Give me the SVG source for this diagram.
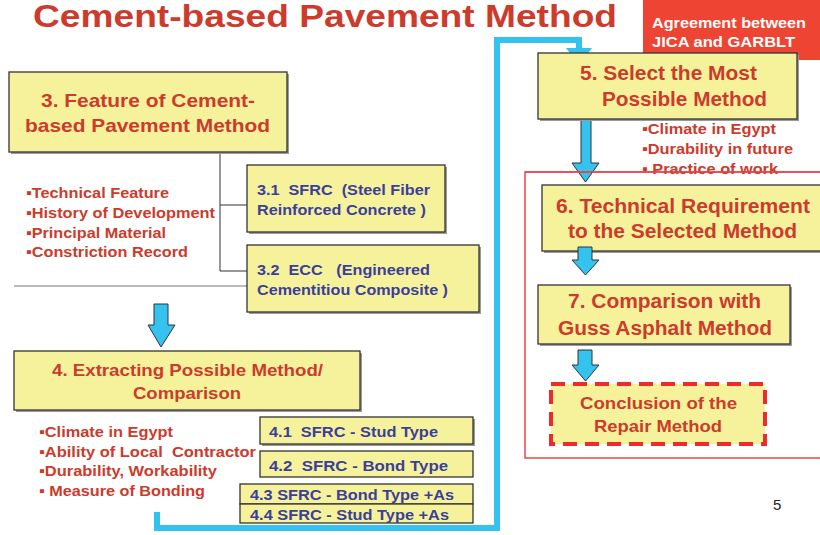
<svg xmlns="http://www.w3.org/2000/svg" width="820" height="535" viewBox="0 0 820 535">
<style>
.box{fill:#f6f29c;stroke:#333;stroke-width:1.3}
.sh{fill:#9a9a9a}
text{font-family:"Liberation Sans",Arial,sans-serif;font-weight:bold}
.rt{fill:#cc3b2c}
.bt{fill:#3b3f9a}
.bl{fill:#cc3b2c;font-size:15.5px}
.arr{fill:#33c3ee;stroke:#333;stroke-width:1}
.ln{stroke:#333;stroke-width:1;fill:none}
</style>
<rect width="820" height="535" fill="#fff"/>
<text x="33" y="27" class="rt" font-size="32" fill="#cc3f2c" textLength="584" lengthAdjust="spacingAndGlyphs">Cement-based Pavement Method</text>
<g id="agreement">
<rect x="643" y="0" width="177" height="60" fill="#ee4433"/>
<text x="652" y="28" font-size="15" fill="#fff" textLength="154" lengthAdjust="spacingAndGlyphs">Agreement between</text>
<text x="652" y="47" font-size="15" fill="#fff" textLength="143" lengthAdjust="spacingAndGlyphs">JICA and GARBLT</text>
</g>
<g id="connectors">
<path class="ln" d="M220,152 V271 M220,205 H247 M220,271 H247"/>
<line x1="14" y1="286" x2="247" y2="286" stroke="#777" stroke-width="1"/>
<path d="M157,512 V528 H497 V40 H579 V50" fill="none" stroke="#33c3ee" stroke-width="6"/>
<polygon points="566,48 592,48 579,65" fill="#33c3ee"/>
<path class="arr" d="M154,304 H168 V325 H175 L161,347 L148,325 H154 Z"/>
<path class="arr" d="M581,119 H591 V163 H599 L585.5,182 L572,163 H581 Z"/>
<path class="arr" d="M578,350 H592 V365 H599 L585.5,381 L572,365 H578 Z"/>
</g>
<rect x="525" y="172" width="300" height="286" fill="none" stroke="#e8454a" stroke-width="1.5"/>
<g id="n3">
<rect x="11" y="74" width="278" height="80" class="sh"/>
<rect x="9" y="72" width="278" height="80" class="box"/>
<text x="41" y="107" class="rt" font-size="19" textLength="214" lengthAdjust="spacingAndGlyphs">3. Feature of Cement-</text>
<text x="25" y="132" class="rt" font-size="19" textLength="245" lengthAdjust="spacingAndGlyphs">based Pavement Method</text>
</g>
<g id="n3bullets">
<text x="26" y="198" class="bl" textLength="143" lengthAdjust="spacingAndGlyphs">▪Technical Feature</text>
<text x="26" y="218" class="bl" textLength="189" lengthAdjust="spacingAndGlyphs">▪History of Development</text>
<text x="26" y="238" class="bl" textLength="140" lengthAdjust="spacingAndGlyphs">▪Principal Material</text>
<text x="26" y="257" class="bl" textLength="162" lengthAdjust="spacingAndGlyphs">▪Constriction Record</text>
</g>
<g id="n31">
<rect x="249" y="167" width="198" height="67" class="sh"/>
<rect x="247" y="165" width="198" height="67" class="box"/>
<text x="257" y="195" class="bt" font-size="15.5" xml:space="preserve" textLength="173" lengthAdjust="spacingAndGlyphs">3.1  SFRC  (Steel Fiber</text>
<text x="257" y="215" class="bt" font-size="15.5" textLength="169" lengthAdjust="spacingAndGlyphs">Reinforced Concrete )</text>
</g>
<g id="n32">
<rect x="249" y="247" width="232" height="67" class="sh"/>
<rect x="247" y="245" width="232" height="67" class="box"/>
<text x="257" y="275" class="bt" font-size="15.5" xml:space="preserve" textLength="173" lengthAdjust="spacingAndGlyphs">3.2  ECC   (Engineered</text>
<text x="257" y="295" class="bt" font-size="15.5" textLength="191" lengthAdjust="spacingAndGlyphs">Cementitiou Composite )</text>
</g>
<g id="n4">
<rect x="16" y="353" width="346" height="59" class="sh"/>
<rect x="14" y="351" width="346" height="59" class="box"/>
<text x="52" y="376" class="rt" font-size="17" textLength="271" lengthAdjust="spacingAndGlyphs">4. Extracting Possible Method/</text>
<text x="133" y="399" class="rt" font-size="17" textLength="108" lengthAdjust="spacingAndGlyphs">Comparison</text>
</g>
<g id="n4bullets">
<text x="39" y="437" class="bl" textLength="134" lengthAdjust="spacingAndGlyphs">▪Climate in Egypt</text>
<text x="39" y="457" class="bl" xml:space="preserve" textLength="217" lengthAdjust="spacingAndGlyphs">▪Ability of Local  Contractor</text>
<text x="39" y="476" class="bl" textLength="178" lengthAdjust="spacingAndGlyphs">▪Durability, Workability</text>
<text x="39" y="496" class="bl" xml:space="preserve" textLength="166" lengthAdjust="spacingAndGlyphs">▪ Measure of Bonding</text>
</g>
<g id="n41">
<rect x="262" y="419" width="213" height="27" class="sh"/>
<rect x="260" y="417" width="213" height="27" class="box"/>
<text x="269" y="437" class="bt" font-size="15" xml:space="preserve" textLength="169" lengthAdjust="spacingAndGlyphs">4.1  SFRC - Stud Type</text>
</g>
<g id="n42">
<rect x="260" y="451" width="213" height="26" class="box"/>
<text x="269" y="471" class="bt" font-size="15" xml:space="preserve" textLength="179" lengthAdjust="spacingAndGlyphs">4.2  SFRC - Bond Type</text>
</g>
<g id="n43">
<rect x="240" y="484" width="233" height="20" class="box"/>
<text x="250" y="500" class="bt" font-size="15" textLength="204" lengthAdjust="spacingAndGlyphs">4.3 SFRC - Bond Type +As</text>
</g>
<g id="n44">
<rect x="240" y="504" width="233" height="19" class="box"/>
<text x="250" y="520" class="bt" font-size="15" textLength="199" lengthAdjust="spacingAndGlyphs">4.4 SFRC - Stud Type +As</text>
</g>
<g id="n5">
<rect x="540" y="55" width="259" height="66" class="sh"/>
<rect x="538" y="53" width="259" height="66" class="box"/>
<text x="580" y="80" class="rt" font-size="19.5" textLength="177" lengthAdjust="spacingAndGlyphs">5. Select the Most</text>
<text x="602" y="106" class="rt" font-size="19.5" textLength="165" lengthAdjust="spacingAndGlyphs">Possible Method</text>
</g>
<g id="n5bullets">
<text x="642" y="134" class="bl" textLength="134" lengthAdjust="spacingAndGlyphs">▪Climate in Egypt</text>
<text x="642" y="154" class="bl" textLength="151" lengthAdjust="spacingAndGlyphs">▪Durability in future</text>
<text x="642" y="174" class="bl" xml:space="preserve" textLength="136" lengthAdjust="spacingAndGlyphs">▪ Practice of work</text>
</g>
<line x1="525" y1="172" x2="820" y2="172" stroke="#e8454a" stroke-width="1.5"/>
<g id="n6">
<rect x="544" y="187" width="280" height="66" class="sh"/>
<rect x="542" y="185" width="280" height="66" class="box"/>
<text x="556" y="213" class="rt" font-size="19.5" textLength="254" lengthAdjust="spacingAndGlyphs">6. Technical Requirement</text>
<text x="568" y="238" class="rt" font-size="19.5" textLength="229" lengthAdjust="spacingAndGlyphs">to the Selected Method</text>
</g>
<path class="arr" d="M578,247 H592 V260 H599 L585.5,275 L572,260 H578 Z"/>
<g id="n7">
<rect x="540" y="287" width="252" height="59" class="sh"/>
<rect x="538" y="285" width="252" height="59" class="box"/>
<text x="568" y="308" class="rt" font-size="19.5" textLength="193" lengthAdjust="spacingAndGlyphs">7. Comparison with</text>
<text x="558" y="335" class="rt" font-size="19.5" textLength="214" lengthAdjust="spacingAndGlyphs">Guss Asphalt Method</text>
</g>
<g id="conclusion">
<rect x="551" y="384" width="214" height="60" fill="#f6f29c" stroke="#ee2a2a" stroke-width="4" stroke-dasharray="14,8"/>
<text x="580" y="409" class="rt" font-size="17" textLength="157" lengthAdjust="spacingAndGlyphs">Conclusion of the</text>
<text x="594" y="432" class="rt" font-size="17" textLength="128" lengthAdjust="spacingAndGlyphs">Repair Method</text>
</g>
<text x="773" y="510" font-size="15" font-weight="normal" fill="#222" style="font-weight:normal">5</text>
</svg>
